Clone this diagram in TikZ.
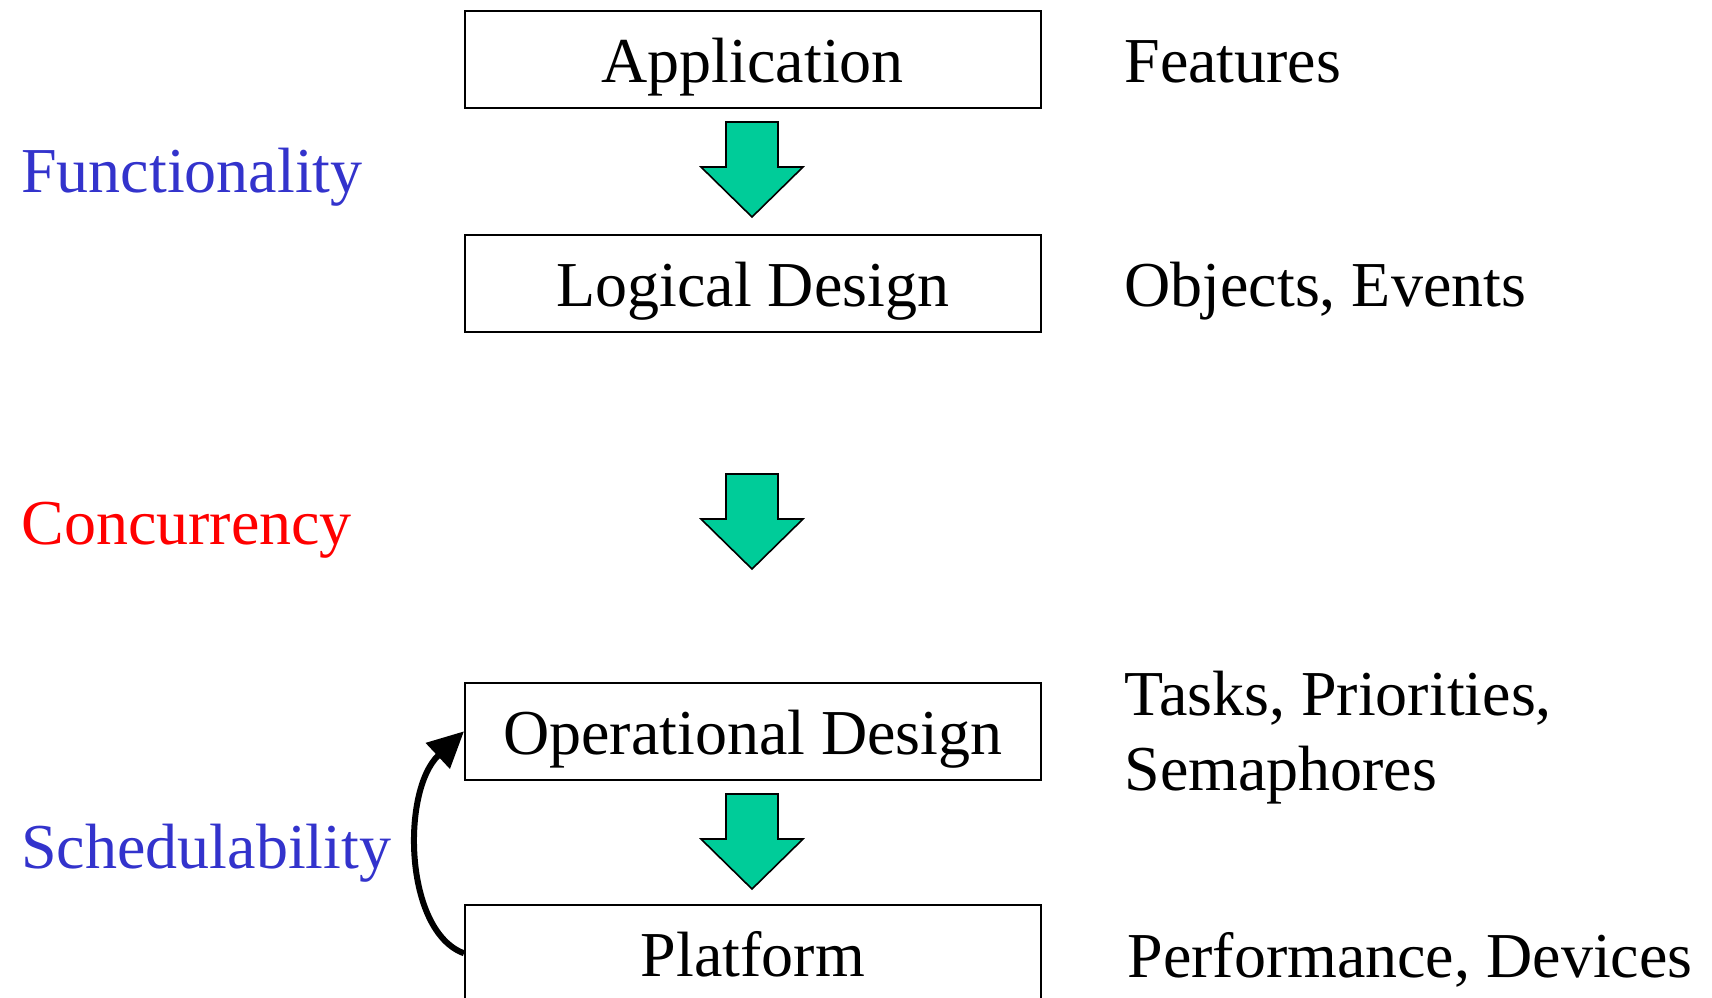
\documentclass[tikz,border=0pt]{standalone}
\usepackage{fontspec}
\setmainfont{Liberation Serif}
\usetikzlibrary{arrows.meta}
\definecolor{flowgreen}{HTML}{00CC99}
\definecolor{topicblue}{HTML}{3333CC}
\definecolor{topicred}{HTML}{FF0000}
\begin{document}
\begin{tikzpicture}[x=0.5pt,y=-0.5pt,
  every node/.style={font=\fontsize{32}{37.5}\selectfont, inner sep=0pt},
  layer/.style={draw=black, line width=0.8pt, minimum width=288pt, minimum height=48.5pt,
    text height=23.5pt, text depth=0pt, anchor=north west},
  note/.style={anchor=base west, align=left},
  topic/.style={anchor=base west},
  feedback/.style={line width=3pt, -{Triangle[length=18pt,width=17pt]}},
  downarrow/.pic={
    \draw[fill=flowgreen, line width=0.8pt, line join=miter]
      (-26,0) -- (26,0) -- (26,45) -- (51,45) -- (0,95) -- (-51,45) -- (-26,45) -- cycle;
  }]
\useasboundingbox (0,0) rectangle (1712,997);
\clip (0,0) rectangle (1712,997);

% design layers
\node[layer] (app)  at (464,10)  {Application};
\node[layer] (log)  at (464,234) {Logical Design};
\node[layer] (op)   at (464,682) {Operational Design};
\node[layer] (plat) at (464,904) {Platform};

% refinement arrows
\pic at (752,122) {downarrow};
\pic at (752,474) {downarrow};
\pic at (752,794) {downarrow};

% what each layer is about
\node[note] (feat) at (1124,82)  {Features};
\node[note] (obj)  at (1124,306) {Objects, Events};
\node[note] (task) at (1124,790) {Tasks, Priorities,\\Semaphores};
\node[note] (perf) at (1127,977) {Performance, Devices};

% concerns addressed between layers
\node[topic, text=topicblue] (func)  at (21,192) {Functionality};
\node[topic, text=topicred]  (conc)  at (21,544) {Concurrency};
\node[topic, text=topicblue] (sched) at (21,868) {Schedulability};

% feedback from platform to operational design
\draw[feedback] (plat.west) .. controls +(-60,-22) and +(-63,59) .. (op.west);
\end{tikzpicture}
\end{document}
